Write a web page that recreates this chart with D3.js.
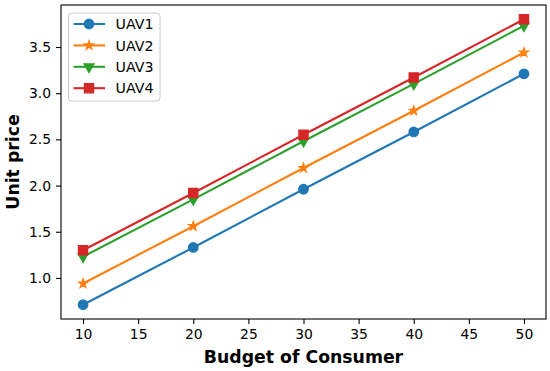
<!DOCTYPE html>
<html>
<head>
<meta charset="utf-8"/>
<title>Unit price vs budget</title>
<script src="https://cdn.jsdelivr.net/npm/d3@7/dist/d3.min.js"></script>
<style>
  body { margin: 0; background: #fff; }
  svg { display: block; font-family: "DejaVu Sans", sans-serif; }
</style>
</head>
<body>
<svg id="chart" width="550" height="371"></svg>
<script>
// data
var budgets = [10, 20, 30, 40, 50];
var uav1 = [0.71, 1.33, 1.96, 2.58, 3.21];
var uav2 = [0.94, 1.56, 2.19, 2.81, 3.44];
var uav3 = [1.23, 1.85, 2.48, 3.10, 3.73];
var uav4 = [1.30, 1.92, 2.55, 3.17, 3.80];
var seriesNames = ["UAV1", "UAV2", "UAV3", "UAV4"];
var xTicks = [10, 15, 20, 25, 30, 35, 40, 45, 50];
var yTicks = [1.0, 1.5, 2.0, 2.5, 3.0, 3.5];

var series = [
  {name: seriesNames[0], values: uav1, color: "#1f77b4", symbol: d3.symbolCircle, size: 72, rot: 0},
  {name: seriesNames[1], values: uav2, color: "#ff7f0e", symbol: d3.symbolStar, size: 26, rot: 0},
  {name: seriesNames[2], values: uav3, color: "#2ca02c", symbol: d3.symbolTriangle, size: 44, rot: 180},
  {name: seriesNames[3], values: uav4, color: "#d62728", symbol: d3.symbolSquare, size: 86, rot: 0}
];

var svg = d3.select("#chart"),
    margin = {top: 5, right: 4, bottom: 52, left: 61},
    width = +svg.attr("width") - margin.left - margin.right,
    height = +svg.attr("height") - margin.top - margin.bottom,
    g = svg.append("g").attr("transform", "translate(" + margin.left + "," + margin.top + ")");

// matplotlib style 5% margins
var xmin = d3.min(budgets), xmax = d3.max(budgets);
var xpad = (xmax - xmin) * 0.05;
var all = uav1.concat(uav2, uav3, uav4);
var ymin = d3.min(all), ymax = d3.max(all);
var ypad = (ymax - ymin) * 0.05;

var x = d3.scaleLinear().domain([xmin - xpad, xmax + xpad]).range([0, width]);
var y = d3.scaleLinear().domain([ymin - ypad, ymax + ypad]).range([height, 0]);

var xAxis = g.append("g")
    .attr("transform", "translate(0," + height + ")")
    .call(d3.axisBottom(x).tickValues(xTicks).tickFormat(d3.format("d")).tickSize(5).tickPadding(5));
var yAxis = g.append("g")
    .call(d3.axisLeft(y).tickValues(yTicks).tickFormat(d3.format(".1f")).tickSize(5).tickPadding(5));

[xAxis, yAxis].forEach(function(a) {
  a.select(".domain").remove();
  a.selectAll("line").attr("stroke", "#000").attr("stroke-width", 1.1);
  a.selectAll("text").attr("fill", "#000").style("font-size", "13.9px")
    .style("font-family", "DejaVu Sans");
});

var line = d3.line()
    .x(function(d, i) { return x(budgets[i]); })
    .y(function(d) { return y(d); });

series.forEach(function(s) {
  g.append("path")
      .datum(s.values)
      .attr("fill", "none")
      .attr("stroke", s.color)
      .attr("stroke-width", 2.1)
      .attr("stroke-linejoin", "round")
      .attr("d", line);
  g.selectAll(null)
      .data(s.values)
    .enter().append("path")
      .attr("transform", function(d, i) {
        return "translate(" + x(budgets[i]) + "," + y(d) + ") rotate(" + s.rot + ")";
      })
      .attr("d", d3.symbol().type(s.symbol).size(s.size))
      .attr("fill", s.color)
      .attr("stroke", s.color)
      .attr("stroke-width", 1.2);
});

// frame
g.append("rect")
    .attr("width", width)
    .attr("height", height)
    .attr("fill", "none")
    .attr("stroke", "#000")
    .attr("stroke-width", 1.1);

// axis labels
svg.append("text")
    .attr("x", margin.left + width / 2)
    .attr("y", 363)
    .attr("text-anchor", "middle")
    .style("font-size", "17.3px")
    .style("font-weight", "bold")
    .text("Budget of Consumer");

svg.append("text")
    .attr("transform", "translate(19," + (margin.top + height / 2) + ") rotate(-90)")
    .attr("text-anchor", "middle")
    .style("font-size", "17.3px")
    .style("font-weight", "bold")
    .text("Unit price");

// legend
var legend = svg.append("g").attr("transform", "translate(68.5,13)");
legend.append("rect")
    .attr("width", 91.5)
    .attr("height", 88)
    .attr("rx", 3)
    .attr("fill", "#fff")
    .attr("fill-opacity", 0.8)
    .attr("stroke", "#ccc")
    .attr("stroke-width", 1);

series.forEach(function(s, i) {
  var row = legend.append("g").attr("transform", "translate(0," + (11 + i * 21.4) + ")");
  row.append("line")
      .attr("x1", 5).attr("x2", 36.5)
      .attr("stroke", s.color)
      .attr("stroke-width", 2.1);
  row.append("path")
      .attr("transform", "translate(20.5,0) rotate(" + s.rot + ")")
      .attr("d", d3.symbol().type(s.symbol).size(s.size))
      .attr("fill", s.color)
      .attr("stroke", s.color)
      .attr("stroke-width", 1.2);
  row.append("text")
      .attr("x", 47)
      .attr("dy", "0.36em")
      .style("font-size", "14.2px")
      .text(s.name);
});
</script>
</body>
</html>
